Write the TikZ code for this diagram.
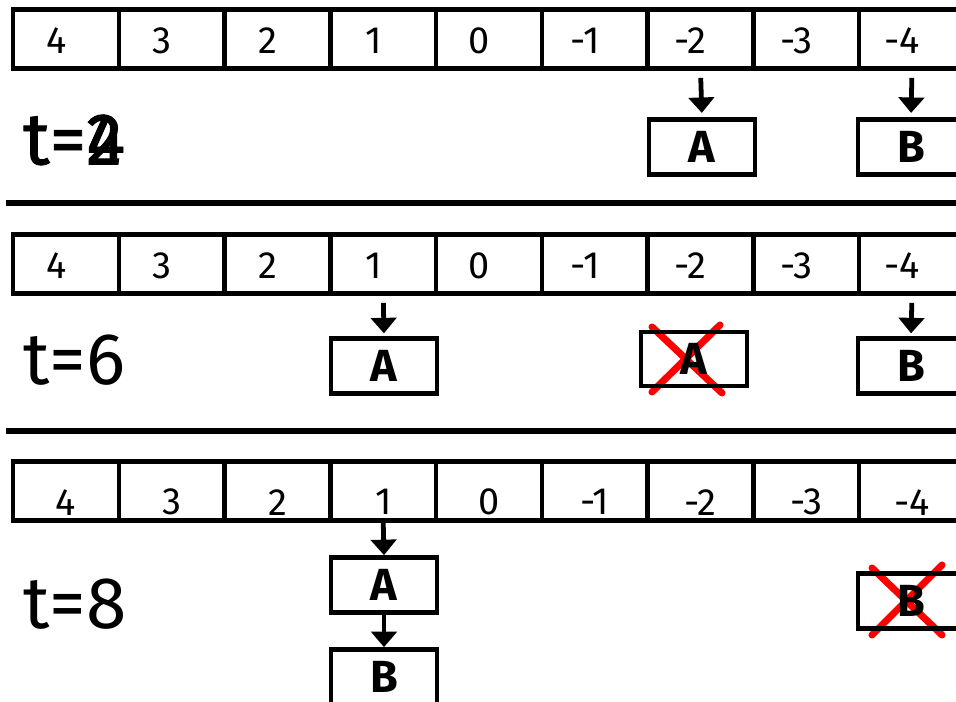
\documentclass[tikz,border=0pt]{standalone}
\usepackage{fontspec}
\setmainfont{Fira Sans}
\newfontfamily\heavyfont[FakeBold=1.2]{Fira Sans}
\usetikzlibrary{arrows.meta}

\begin{document}
\begin{tikzpicture}[x=0.025cm,y=-0.025cm,
  cell/.style={draw,line width=3.2pt,minimum width=2.64cm,minimum height=1.48cm,inner sep=0pt},
  num/.style={font=\fontsize{27}{32}\selectfont},
  box/.style={draw,line width=3.2pt,minimum width=2.65cm,minimum height=1.38cm,inner sep=0pt,font=\fontsize{32}{36}\selectfont\bfseries},
  ptr/.style={line width=3.4pt,-{Triangle[length=11pt,width=18pt]}},
  cross/.style={red,line width=5pt,line cap=round},
  sep/.style={line width=3.8pt},
  time/.style={anchor=west,inner sep=0pt,font=\fontsize{52}{60}\selectfont}
]
  \useasboundingbox (0,0) rectangle (956,702);
  \clip (0,0) rectangle (956,702);
  % the three rows of slots
  \foreach \r/\y/\dx/\dy in {1/39/-7/-1,2/264/-7/-1,3/491/0/-8}
    \foreach \v [count=\i from 0] in {4,3,2,1,0,-1,-2,-3,-4} {
      \node[cell] (p\r\i) at ({66+105.75*\i},\y) {};
      \node[num,xshift=\dx pt,yshift=\dy pt] at (p\r\i) {\v};
    }
  \draw[sep] (6,203) -- (960,203);
  \draw[sep] (6,431) -- (960,431);

  % t=2
  \node[time] (t1) at (23,140) {\heavyfont t=\rlap{2}4};
  \node[box] (a1) at (702,147) {A};
  \node[box] (b1) at (911,147) {B};
  \draw[ptr,shorten <=5pt,shorten >=3pt] (p16.south) -- (a1.north);
  \draw[ptr,shorten <=5pt,shorten >=3pt] (p18.south) -- (b1.north);

  % t=6
  \node[time] (t2) at (23,360) {t=6};
  \node[box] (a2) at (384,366) {A};
  \draw[cross] (652,327) -- (722,393) (720,325) -- (652,392);
  \node[box,minimum height=1.35cm] (x2) at (694,359) {A};
  \node[box] (b2) at (911,366) {B};
  \draw[ptr,shorten <=5pt,shorten >=2pt] (p23.south) -- (a2.north);
  \draw[ptr,shorten <=5pt,shorten >=2pt] (p28.south) -- (b2.north);

  % t=8
  \node[time] (t3) at (23,604) {t=8};
  \node[box] (a3) at (384,585) {A};
  \node[box] (b3) at (384,677) {B};
  \draw[ptr] (p33.south) -- (a3.north);
  \draw[ptr] (a3) -- (b3);
  \draw[cross] (872,568) -- (942,635) (942,565) -- (872,635);
  \node[box] (x3) at (911,601) {B};
\end{tikzpicture}
\end{document}
